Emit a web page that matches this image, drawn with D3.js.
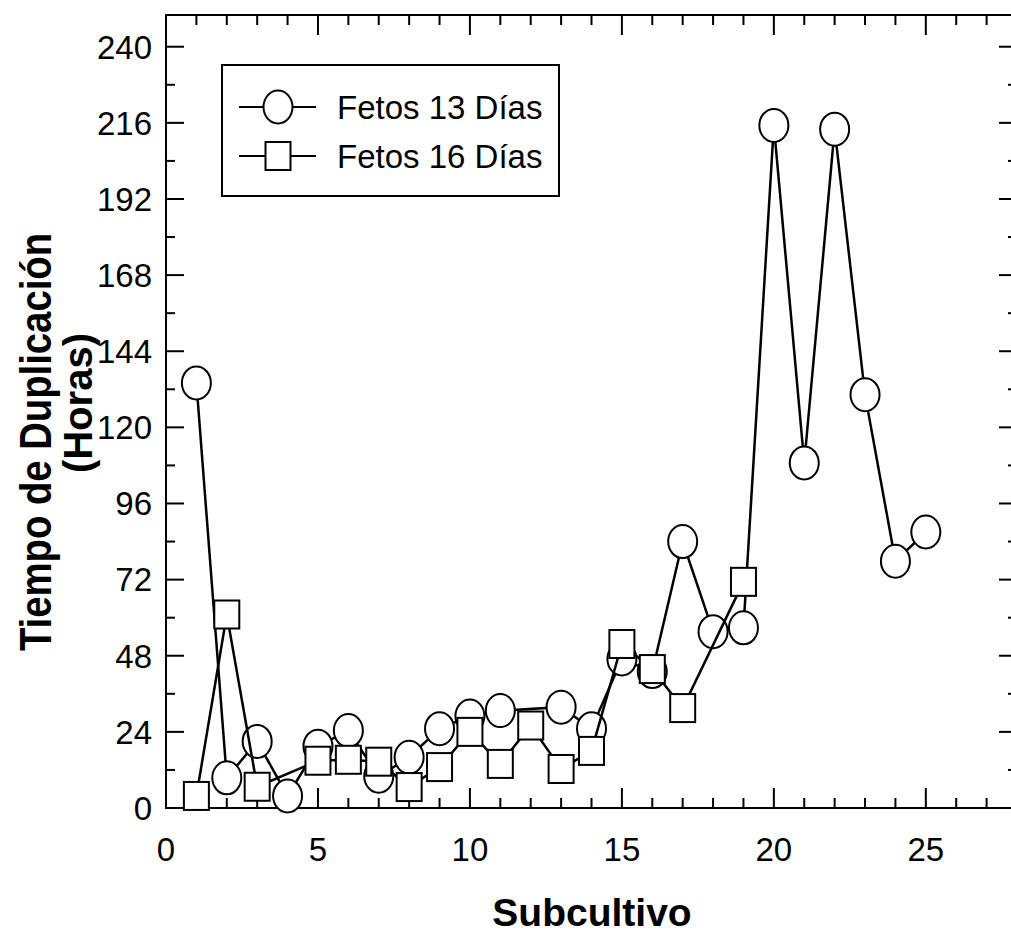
<!DOCTYPE html>
<html>
<head>
<meta charset="utf-8">
<script src="https://cdn.jsdelivr.net/npm/d3@7"></script>
<style>
  html, body { margin: 0; padding: 0; background: #fff; }
  svg { display: block; }
  text { font-family: "Liberation Sans", Arial, Helvetica, sans-serif; fill: #000; }
</style>
</head>
<body>
<svg id="chart" width="1011" height="938"></svg>
<script>
// ---- data ----
const seriesNames = ["Fetos 13 Días", "Fetos 16 Días"];
const x13 = [1, 2, 3, 4, 5, 6, 7, 8, 9, 10, 11, 13, 14, 15, 16, 17, 18, 19, 20, 21, 22, 23, 24, 25];
const y13 = [134, 9.5, 21, 3.8, 19.5, 24.4, 10, 16, 25, 29, 30.7, 31.8, 25, 47, 43, 84, 55.6, 56.8, 215.2, 108.8, 214, 130.3, 77.8, 87];
const x16 = [1, 2, 3, 5, 6, 7, 8, 9, 10, 11, 12, 13, 14, 15, 16, 17, 19];
const y16 = [3.8, 61, 6.7, 14.9, 15.2, 14.6, 6.6, 12.9, 24, 13.9, 26, 12.3, 18, 51.7, 43.8, 31.5, 71.3];
const xTickLabels = [0, 5, 10, 15, 20, 25];
const yTickLabels = [0, 24, 48, 72, 96, 120, 144, 168, 192, 216, 240];
const xTitle = "Subcultivo";
const yTitle1 = "Tiempo de Duplicación";
const yTitle2 = "(Horas)";

// ---- layout ----
const svg = d3.select("#chart");
const L = 166, R = 1017, T = 15, B = 808;
const x = d3.scaleLinear().domain([0, 28]).range([L, R]);
const y = d3.scaleLinear().domain([0, 250]).range([B, T]);

const pts13 = x13.map((v, i) => [v, y13[i]]);
const pts16 = x16.map((v, i) => [v, y16[i]]);

// frame
svg.append("rect").attr("x", L).attr("y", T).attr("width", R - L).attr("height", B - T)
  .attr("fill", "none").attr("stroke", "#000").attr("stroke-width", 2);

// ticks
const xMinor = d3.range(0, 29, 1);
const yMinor = d3.range(0, 251, 12);
function xTicks(g, y0, dir) {
  g.selectAll(null).data(xMinor).enter().append("line")
    .attr("x1", d => x(d)).attr("x2", d => x(d))
    .attr("y1", y0).attr("y2", d => y0 + dir * (d % 5 === 0 ? 20 : 10))
    .attr("stroke", "#000").attr("stroke-width", 2);
}
function yTicks(g, x0, dir) {
  g.selectAll(null).data(yMinor).enter().append("line")
    .attr("y1", d => y(d)).attr("y2", d => y(d))
    .attr("x1", x0).attr("x2", d => x0 + dir * (d % 24 === 0 ? 18 : 9))
    .attr("stroke", "#000").attr("stroke-width", 2);
}
const tg = svg.append("g");
xTicks(tg, B, -1); xTicks(tg, T, 1);
yTicks(tg, L, 1); yTicks(tg, R, -1);

// tick labels
svg.append("g").selectAll("text").data(xTickLabels).enter().append("text")
  .attr("x", d => x(d)).attr("y", 861).attr("text-anchor", "middle")
  .attr("font-size", 33).text(d => d);
svg.append("g").selectAll("text").data(yTickLabels).enter().append("text")
  .attr("x", 152).attr("y", d => y(d)).attr("dy", "0.36em").attr("text-anchor", "end")
  .attr("font-size", 33).text(d => d);

// axis titles
svg.append("text").attr("x", 592).attr("y", 926).attr("text-anchor", "middle")
  .attr("font-size", 39).attr("font-weight", "bold").text(xTitle);
svg.append("text").attr("transform", "translate(51,442) rotate(-90) scale(0.87,1)")
  .attr("text-anchor", "middle").attr("font-size", 44).attr("font-weight", "bold").text(yTitle1);
svg.append("text").attr("transform", "translate(92,403) rotate(-90)")
  .attr("text-anchor", "middle").attr("font-size", 40).attr("font-weight", "bold").text(yTitle2);

// lines
const line = d3.line().x(d => x(d[0])).y(d => y(d[1]));
function drawCircles(g, pts) {
  g.selectAll(null).data(pts).enter().append("ellipse")
    .attr("cx", d => x(d[0])).attr("cy", d => y(d[1])).attr("rx", 14.5).attr("ry", 16.5)
    .attr("fill", "#fff").attr("stroke", "#000").attr("stroke-width", 2);
}
function drawSquares(g, pts) {
  g.selectAll(null).data(pts).enter().append("rect")
    .attr("x", d => x(d[0]) - 12.5).attr("y", d => y(d[1]) - 14).attr("width", 25).attr("height", 28)
    .attr("fill", "#fff").attr("stroke", "#000").attr("stroke-width", 2);
}
const plot = svg.append("g");
plot.append("path").datum(pts13).attr("d", line).attr("fill", "none").attr("stroke", "#000").attr("stroke-width", 2.5);
drawCircles(plot, pts13);
plot.append("path").datum(pts16).attr("d", line).attr("fill", "none").attr("stroke", "#000").attr("stroke-width", 2.5);
drawSquares(plot, pts16);

// legend
const lg = svg.append("g");
lg.append("rect").attr("x", 222).attr("y", 65).attr("width", 337).attr("height", 131)
  .attr("fill", "#fff").attr("stroke", "#000").attr("stroke-width", 2);
const legY = [107, 156];
seriesNames.forEach((name, i) => {
  lg.append("line").attr("x1", 239).attr("x2", 316).attr("y1", legY[i]).attr("y2", legY[i])
    .attr("stroke", "#000").attr("stroke-width", 2);
  const p = [[x.invert(278), y.invert(legY[i])]];
  if (i === 0) drawCircles(lg, p); else drawSquares(lg, p);
  lg.append("text").attr("x", 337).attr("y", legY[i]).attr("dy", "0.36em")
    .attr("font-size", 33).text(name);
});
</script>
</body>
</html>
